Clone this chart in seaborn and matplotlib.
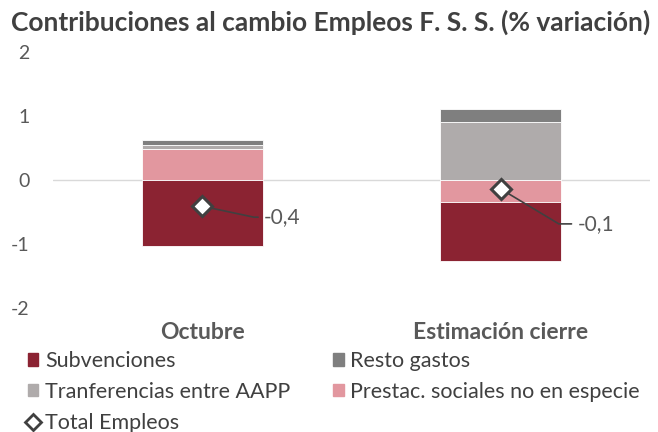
import numpy as np
import pandas as pd
import matplotlib
matplotlib.use("Agg")
import matplotlib.pyplot as plt
from matplotlib.patches import Patch
from matplotlib.lines import Line2D
import seaborn as sns

# data
periods = ["Octubre", "Estimación cierre"]
prestac = [0.48, -0.34]
subvenciones = [-1.03, -0.92]
transferencias = [0.07, 0.91]
resto = [0.07, 0.20]
total = [-0.41, -0.14]

series_names = ["Prestac. sociales no en especie", "Subvenciones",
                "Tranferencias entre AAPP", "Resto gastos"]
series_values = [prestac, subvenciones, transferencias, resto]
colors = {
    "Subvenciones": "#8B2332",
    "Resto gastos": "#7F7F7F",
    "Tranferencias entre AAPP": "#AFABAB",
    "Prestac. sociales no en especie": "#E2979F",
}

sns.set_style("white")
plt.rcParams["font.family"] = ["Lato", "DejaVu Sans"]
text_col = "#595959"

fig = plt.figure(figsize=(6.58, 4.32), dpi=100)
ax = fig.add_axes([0.0805, 0.287, 0.907, 0.593])

# stack positives upward and negatives downward, like Excel does
pos_base = np.zeros(len(periods))
neg_base = np.zeros(len(periods))
for name, vals in zip(series_names, series_values):
    vals = np.array(vals)
    bottom = np.where(vals >= 0, pos_base, neg_base)
    df = pd.DataFrame({"period": periods, "value": vals})
    sns.barplot(data=df, x="period", y="value", bottom=bottom, width=0.405,
                color=colors[name], saturation=1, edgecolor="white",
                linewidth=0.6, ax=ax, errorbar=None)
    pos_base = pos_base + np.where(vals >= 0, vals, 0)
    neg_base = neg_base + np.where(vals < 0, vals, 0)

ax.axhline(0, color="#D9D9D9", lw=1, zorder=0.5)

xs = np.arange(len(periods))
ax.plot(xs, total, linestyle="none", marker="D", markersize=10.5,
        markerfacecolor="white", markeredgecolor="#404040",
        markeredgewidth=2.2, zorder=5)

offsets = [(62, -11), (77, -35)]
angles = [-12, -31]
for x, v, off, ang in zip(xs, total, offsets, angles):
    ax.annotate(f"{v:.1f}".replace(".", ","), xy=(x, v), xytext=off,
                textcoords="offset pixels", ha="left", va="center",
                fontsize=15, color=text_col,
                arrowprops=dict(arrowstyle="-", color="#404040", lw=1.2,
                                shrinkA=2, shrinkB=0,
                                connectionstyle=f"angle,angleA=180,angleB={ang},rad=0"))

ax.set_xlim(-0.5, 1.5)
ax.set_ylim(-2, 2)
ax.set_yticks([-2, -1, 0, 1, 2])
ax.set_yticklabels(["-2", "-1", "0", "1", "2"])
ax.set_xlabel("")
ax.set_ylabel("")
ax.tick_params(axis="y", length=0, pad=17, labelsize=14, labelcolor=text_col)
ax.tick_params(axis="x", length=0, pad=10, labelsize=16.5, labelcolor=text_col)
for lab in ax.get_xticklabels():
    lab.set_fontweight("bold")
sns.despine(ax=ax, left=True, bottom=True)

fig.suptitle("Contribuciones al cambio Empleos F. S. S. (% variación)",
             x=0.503, y=0.949, va="center", fontsize=19, fontweight="bold",
             color="#404040")

handles = [
    Patch(color=colors["Subvenciones"], label="Subvenciones"),
    Patch(color=colors["Tranferencias entre AAPP"], label="Tranferencias entre AAPP"),
    Line2D([], [], linestyle="none", marker="D", markersize=8,
           markerfacecolor="white", markeredgecolor="#404040",
           markeredgewidth=2, label="Total Empleos"),
    Patch(color=colors["Resto gastos"], label="Resto gastos"),
    Patch(color=colors["Prestac. sociales no en especie"],
          label="Prestac. sociales no en especie"),
]
fig.legend(handles=handles, ncol=2, loc="upper left",
           bbox_to_anchor=(0.042, 0.187), frameon=False, fontsize=15.5,
           labelcolor="#404040", handlelength=0.5, handleheight=0.5,
           handletextpad=0.3, columnspacing=2.0, labelspacing=0.5,
           borderaxespad=0, borderpad=0)

fig.savefig("out.png", dpi=100)
